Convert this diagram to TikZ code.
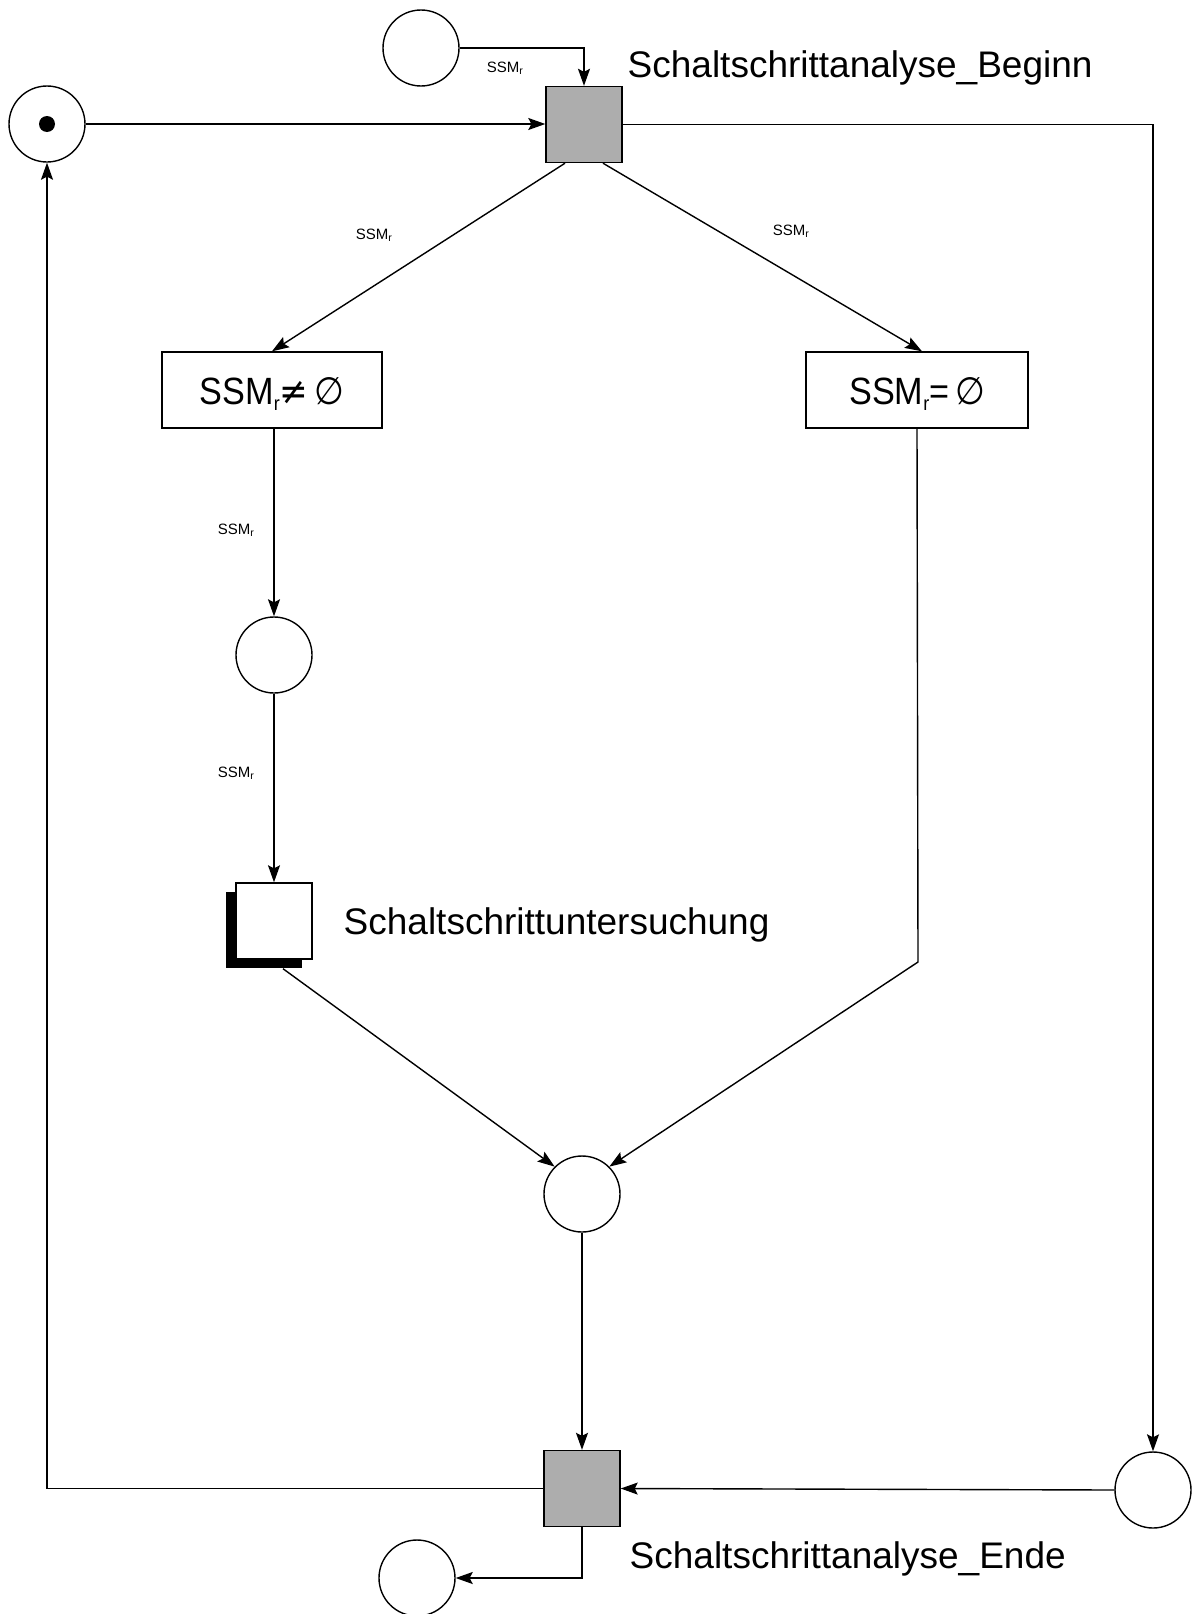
\documentclass[tikz,border=0pt]{standalone}
\usepackage{fontspec}
\setmainfont{Liberation Sans}
\newfontfamily\dejavu{DejaVu Sans}
\usetikzlibrary{arrows.meta,calc,shadows}
\newcommand{\smallsub}[1]{\raisebox{-0.18em}{\fontsize{20}{22}\selectfont #1}}
\begin{document}
\begin{tikzpicture}[x=1pt,y=-1pt,
  every path/.style={line width=1.4pt},
  place/.style={circle,draw,minimum size=76pt,inner sep=0pt,line width=1.4pt},
  graytrans/.style={rectangle,draw,fill=black!32,minimum size=76pt,inner sep=0pt,line width=1.4pt},
  cond/.style={rectangle,draw,minimum height=76pt,inner sep=0pt,line width=1.4pt,
    font=\fontsize{38}{44}\selectfont,text height=28pt,text depth=0pt},
  arr/.style={-{Stealth[length=17pt,width=12pt,inset=3pt]},line width=1.4pt},
  lab/.style={font=\fontsize{37}{44}\selectfont,anchor=base west,inner sep=0pt},
  small/.style={font=\fontsize{15}{17}\selectfont,inner sep=0pt}
]
\useasboundingbox (0,0) rectangle (1193,1614);

% nodes
\node[place] (src) at (421,48) {};
\node[place] (tok) at (47,124) {};
\fill (tok.center) circle (8pt);
\node[graytrans] (tb) at (584,124.5) {};
\node[cond,minimum width=220pt] (bneq) at (272,390) {\scalebox{0.9}[1]{SSM\smallsub{r}{\dejavu ≠}\,{\dejavu ∅}}};
\node[cond,minimum width=222pt] (beq) at (917,390) {\scalebox{0.9}[1]{SSM\smallsub{r}=\,{\dejavu ∅}}};
\node[place] (p1) at (274,655) {};
\node[rectangle,draw,fill=white,minimum size=76pt,inner sep=0pt,line width=1.4pt,
  drop shadow={shadow xshift=-10pt,shadow yshift=-9pt,fill=black,opacity=1}] (sub) at (274,921) {};
\node[place] (m) at (582,1194) {};
\node[graytrans] (te) at (582,1488.5) {};
\node[place] (pr) at (1153,1490) {};
\node[place] (sink) at (417,1578) {};

% labels
\node[lab] (lbeg) at (627,77) {Schaltschrittanalyse\_Beginn};
\node[lab] (lend) at (629,1568) {Schaltschrittanalyse\_Ende};
\node[lab] (lsub) at (343,934) {Schaltschrittuntersuchung};

% connectors
\draw[arr] (src.east) -| (tb.north);
\node[small] (l0) at (505,68) {SSM\textsubscript{r}};
\draw[arr] (tok.east) -- (tb.west |- tok.east);
\draw[arr] (tb.east) -| (pr.north);
\draw[arr] ($(tb.south)+(-19,0)$) -- (bneq.north);
\node[small] (l1) at (374,235) {SSM\textsubscript{r}};
\draw[arr] ($(tb.south)+(19,0)$) -- ($(beq.north)+(5,0)$);
\node[small] (l2) at (791,231) {SSM\textsubscript{r}};
\draw[arr] (p1.north |- bneq.south) -- (p1.north);
\node[small] (l3) at (236,530) {SSM\textsubscript{r}};
\draw[arr] (p1.south) -- (sub.north);
\node[small] (l4) at (236,773) {SSM\textsubscript{r}};
\draw[arr] ($(sub.south)+(9,9)$) -- (m.135);
\coordinate (bend) at (918,962);
\draw[arr] (beq.south) -- (bend) -- (m.45);
\draw[arr] (m.south) -- (te.north);
\draw[arr] (pr.west) -- (te.east);
\draw[arr] (te.west) -| (tok.south);
\draw[arr] (te.south) |- (sink.east);
\end{tikzpicture}
\end{document}
